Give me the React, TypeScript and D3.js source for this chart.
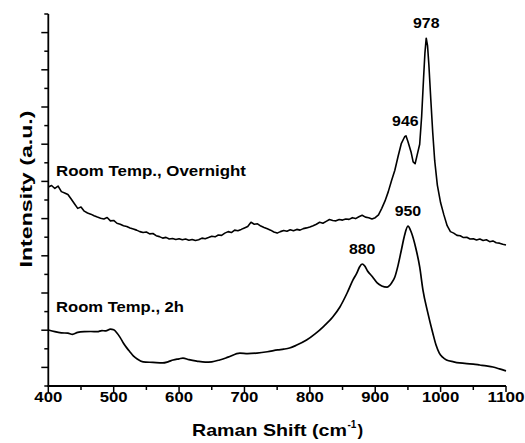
import React from "react";
import * as d3 from "d3";

const xTickValues = [400, 500, 600, 700, 800, 900, 1000, 1100];
const xMinorTickValues = [450, 550, 650, 750, 850, 950, 1050];
const yMajorTickValues = [1, 3, 5, 7, 9, 11, 13, 15, 17, 19];
const yMinorTickValues = [0, 2, 4, 6, 8, 10, 12, 14, 16, 18, 20];

const overnightX = [
  400, 405, 410, 415, 420, 425, 430, 435, 440, 445, 450, 455, 460, 465, 470, 475, 480, 485, 490, 495,
  500, 505, 510, 515, 520, 525, 530, 535, 540, 545, 550, 555, 560, 565, 570, 575, 580, 585, 590, 595,
  600, 605, 610, 615, 620, 625, 630, 635, 640, 645, 650, 655, 660, 665, 670, 675, 680, 685, 690, 695,
  700, 705, 710, 715, 720, 725, 730, 735, 740, 745, 750, 755, 760, 765, 770, 775, 780, 785, 790, 795,
  800, 805, 810, 815, 820, 825, 830, 835, 840, 845, 850, 855, 860, 865, 870, 875, 880, 885, 890, 895,
  900, 905, 910, 915, 920, 925, 930, 935, 940, 945, 947, 950, 955, 958, 961, 964, 968, 971, 974, 976,
  978, 980, 982, 985, 988, 991, 995, 1000, 1005, 1010, 1015, 1020, 1025, 1030, 1035, 1040, 1045, 1050,
  1055, 1060, 1065, 1070, 1075, 1080, 1085, 1090, 1095, 1100,
];
const overnightY = [
  10.7, 10.78, 10.62, 10.75, 10.45, 10.38, 10.3, 10.05, 9.8, 9.55, 9.62, 9.4, 9.3, 9.24, 9.15, 9.08, 9.02, 8.98, 9.06, 8.88,
  8.9, 8.75, 8.7, 8.62, 8.58, 8.5, 8.44, 8.38, 8.3, 8.25, 8.28, 8.18, 8.2, 8.08, 8.03, 7.95, 7.99, 7.9, 7.93, 7.88,
  7.92, 7.86, 7.9, 7.84, 7.88, 7.82, 7.86, 7.95, 7.92, 7.98, 8.05, 8.02, 8.12, 8.1, 8.22, 8.3, 8.25, 8.38, 8.35, 8.42,
  8.5, 8.58, 8.8, 8.7, 8.72, 8.6, 8.52, 8.45, 8.38, 8.28, 8.22, 8.3, 8.36, 8.32, 8.4, 8.35, 8.42, 8.38, 8.46, 8.5,
  8.55, 8.62, 8.7, 8.8, 8.75, 8.85, 8.95, 8.9, 8.88, 8.95, 8.92, 8.98, 8.96, 9.05, 9.0, 9.1, 9.18, 9.08, 9.05, 8.98,
  9.05, 9.2, 9.55, 9.95, 10.45, 11.05, 11.6, 12.35, 13.05, 13.4, 13.45, 13.15, 12.55, 12.05, 11.95, 12.4, 13.0, 14.5, 16.6, 17.9,
  18.7, 18.3, 17.3, 15.4, 13.6, 12.1, 10.8, 9.85, 9.2, 8.62, 8.3, 8.22, 8.1, 8.08, 7.98, 8.0, 7.9, 7.92,
  7.85, 7.9, 7.82, 7.86, 7.76, 7.8, 7.7, 7.68, 7.62, 7.58,
];

const twoHourX = [
  400, 410, 420, 430, 437, 445, 455, 465, 475, 482, 488, 495, 500, 505, 510, 515, 520, 525, 530, 536,
  545, 560, 575, 583, 591, 600, 606, 615, 627, 640, 650, 662, 675, 693, 705, 719, 735, 751, 760, 769,
  780, 795, 808, 820, 835, 846, 857, 866, 872, 876, 880, 884, 888, 896, 903, 910, 918, 925, 930, 935,
  940, 945, 950, 955, 962, 968, 973, 980, 988, 993, 998, 1003, 1009, 1020, 1029, 1040, 1050, 1060, 1070, 1080,
  1090, 1100,
];
const twoHourY = [
  3.01, 2.92, 2.86, 2.84, 2.78, 2.88, 2.92, 2.93, 2.92, 2.98, 2.96, 3.06, 3.02, 2.85, 2.6, 2.3, 2.05, 1.83, 1.62, 1.45,
  1.3, 1.27, 1.24, 1.3, 1.4, 1.46, 1.5, 1.42, 1.34, 1.28, 1.3, 1.4, 1.55, 1.77, 1.74, 1.77, 1.84, 1.94, 1.98, 2.04,
  2.2, 2.47, 2.8, 3.17, 3.71, 4.25, 5.0, 5.7, 6.08, 6.4, 6.56, 6.45, 6.2, 5.86, 5.54, 5.38, 5.32, 5.54, 5.86, 6.5,
  7.31, 8.12, 8.6, 8.28, 7.42, 6.4, 5.16, 4.0, 2.85, 2.2, 1.77, 1.55, 1.4, 1.3, 1.24, 1.2, 1.18, 1.13, 1.08, 1.02,
  0.92, 0.81,
];

const peakLabels = ["978", "946", "950", "880"];
const peakLabelX = [978, 946, 950, 880];
const peakLabelY = [18.7, 13.45, 8.6, 6.56];

const FONT = "'Liberation Sans', Arial, Helvetica, sans-serif";

export default function App() {
  const W = 525;
  const H = 443;
  const x = d3.scaleLinear().domain([400, 1100]).range([48.3, 506]);
  const y = d3.scaleLinear().domain([0, 20]).range([386, 14]);

  const overnight = overnightX.map((v, i) => [v, overnightY[i]] as [number, number]);
  const twoHour = twoHourX.map((v, i) => [v, twoHourY[i]] as [number, number]);

  const lineRough = d3
    .line<[number, number]>()
    .x((d) => x(d[0]))
    .y((d) => y(d[1]));
  const lineSmooth = d3
    .line<[number, number]>()
    .x((d) => x(d[0]))
    .y((d) => y(d[1]))
    .curve(d3.curveMonotoneX);

  const x0 = x(400);
  const y0 = y(0);

  return (
    <svg
      width={W}
      height={H}
      style={{ position: "absolute", left: 0, top: 0, background: "#fff" }}
      fontFamily={FONT}
    >
      <rect x={0} y={0} width={W} height={H} fill="#fff" />
      {/* curves */}
      <path d={lineRough(overnight) || ""} fill="none" stroke="#000" strokeWidth={1.6} strokeLinejoin="round" />
      <path d={lineSmooth(twoHour) || ""} fill="none" stroke="#000" strokeWidth={1.7} strokeLinejoin="round" />

      {/* axes */}
      <line x1={x0} x2={x0} y1={y(20)} y2={y0 + 0.8} stroke="#000" strokeWidth={1.8} />
      <line x1={x0 - 0.8} x2={x(1100)} y1={y0} y2={y0} stroke="#000" strokeWidth={1.8} />
      {yMajorTickValues.map((v) => (
        <line key={"ym" + v} x1={x0 - 7} x2={x0} y1={y(v)} y2={y(v)} stroke="#000" strokeWidth={1.5} />
      ))}
      {yMinorTickValues.map((v) => (
        <line key={"yn" + v} x1={x0 - 4} x2={x0} y1={y(v)} y2={y(v)} stroke="#000" strokeWidth={1.5} />
      ))}
      {xTickValues.map((v) => (
        <line key={"xm" + v} x1={x(v)} x2={x(v)} y1={y0} y2={y0 + 6} stroke="#000" strokeWidth={1.5} />
      ))}
      {xMinorTickValues.map((v) => (
        <line key={"xn" + v} x1={x(v)} x2={x(v)} y1={y0} y2={y0 + 4} stroke="#000" strokeWidth={1.5} />
      ))}
      {xTickValues.map((v) => {
        const s = String(v);
        return (
          <text
            key={"xl" + v}
            x={x(v)}
            y={401.5}
            textAnchor="middle"
            fontSize={15}
            fontWeight="bold"
            textLength={s.length * 9.3}
            lengthAdjust="spacingAndGlyphs"
          >
            {s}
          </text>
        );
      })}

      {/* axis titles */}
      <text x={192} y={436} fontSize={17} fontWeight="bold" textLength={155} lengthAdjust="spacingAndGlyphs">
        Raman Shift (cm
      </text>
      <text x={347.5} y={428} fontSize={10} fontWeight="bold">
        -1
      </text>
      <text x={357.5} y={436} fontSize={17} fontWeight="bold">
        )
      </text>
      <text
        transform="translate(32,189) rotate(-90)"
        textAnchor="middle"
        fontSize={17}
        fontWeight="bold"
        textLength={157}
        lengthAdjust="spacingAndGlyphs"
      >
        Intensity (a.u.)
      </text>

      {/* curve labels */}
      <text x={56} y={175.5} fontSize={15} fontWeight="bold" textLength={190} lengthAdjust="spacingAndGlyphs">
        Room Temp., Overnight
      </text>
      <text x={56} y={311.5} fontSize={15} fontWeight="bold" textLength={128} lengthAdjust="spacingAndGlyphs">
        Room Temp., 2h
      </text>

      {/* peak labels */}
      {peakLabels.map((t, i) => (
        <text
          key={t}
          x={x(peakLabelX[i])}
          y={y(peakLabelY[i]) - 10}
          textAnchor="middle"
          fontSize={15}
          fontWeight="bold"
          textLength={26.5}
          lengthAdjust="spacingAndGlyphs"
        >
          {t}
        </text>
      ))}
    </svg>
  );
}
